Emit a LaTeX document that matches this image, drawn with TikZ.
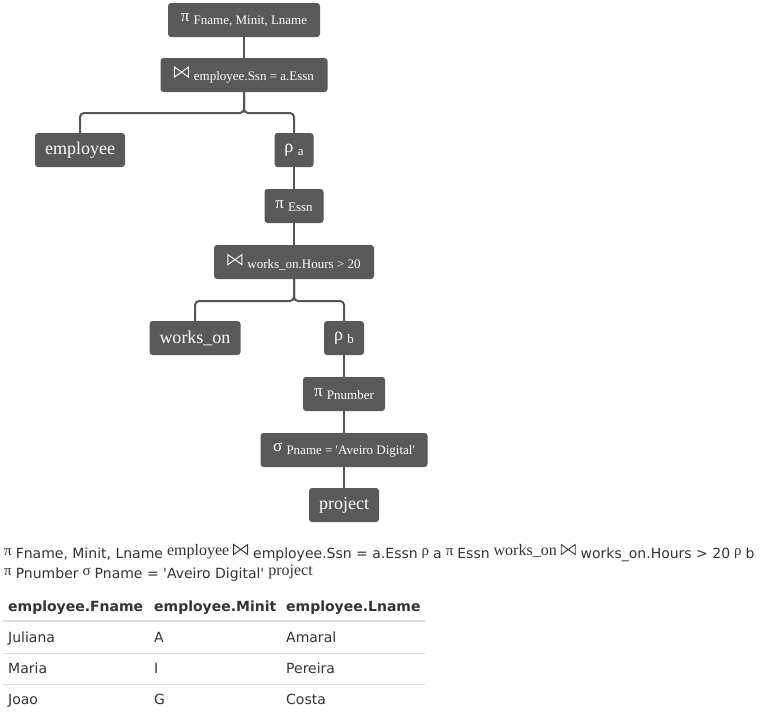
\documentclass[tikz,border=0pt]{standalone}
\usepackage{fontspec}
\setmainfont{Liberation Serif}
\newfontfamily\uisans{DejaVu Sans}
\definecolor{opfill}{RGB}{89,89,89}
\definecolor{edgecol}{RGB}{85,85,85}
\definecolor{txt}{RGB}{51,51,51}
\definecolor{rule}{RGB}{221,221,221}
\newcommand\opsub[1]{\raisebox{-3pt}{\fontsize{13}{13}\selectfont #1}}
\newcommand\bt{\tikz[baseline=0pt, x=1pt, y=1pt]\draw[sharp corners, line width=0.9pt, line join=miter, draw=.] (0.5,0.5) -- (0.5,10.5) -- (14.5,0.5) -- (14.5,10.5) -- cycle;\hspace{5pt}}
\newcommand\exsub[1]{\raisebox{-3.5pt}{\uisans\fontsize{14}{14}\selectfont #1}}
\newcommand\exsym[1]{{\fontsize{15}{15}\selectfont #1}}
\begin{document}
\begin{tikzpicture}[x=1pt,y=-1pt,
  op/.style={fill=opfill, rounded corners=3pt, text=white, minimum height=34pt,
    inner xsep=6pt, inner ysep=0pt, font=\fontsize{17}{17}\selectfont},
  leaf/.style={op, font=\fontsize{18}{18}\selectfont},
  edge/.style={draw=edgecol, line width=2pt, rounded corners=4pt},
  hd/.style={anchor=base west, inner sep=0pt, text=txt, font=\uisans\bfseries\fontsize{14}{14}\selectfont},
  cell/.style={anchor=base west, inner sep=0pt, text=txt, font=\uisans\fontsize{14}{14}\selectfont}]
\useasboundingbox (0,0) rectangle (775,716);

\coordinate (c1) at (244,113);
\coordinate (c2) at (294,301);

\node[op, minimum width=152pt] (p1) at (244,20) {π \opsub{Fname, Minit, Lname}};
\node[op, minimum width=167pt] (j1) at (244,75) {\bt\opsub{employee.Ssn = a.Essn}};
\node[leaf, minimum width=90pt] (emp) at (80,150) {employee};
\node[leaf, minimum width=39pt] (ra) at (294,150) {ρ \opsub{a}};
\node[op, minimum width=59pt] (pe) at (294,206) {π \opsub{Essn}};
\node[op, minimum width=160pt] (j2) at (294,262) {\bt\opsub{works\_on.Hours > 20}};
\node[leaf, minimum width=91pt] (wo) at (195,338) {works\_on};
\node[leaf, minimum width=40pt] (rb) at (344,338) {ρ \opsub{b}};
\node[op, minimum width=82pt] (pp) at (344,394) {π \opsub{Pnumber}};
\node[op, minimum width=167pt] (sg) at (344,450) {σ \opsub{Pname = \textquotesingle Aveiro Digital\textquotesingle}};
\node[leaf, minimum width=70pt] (pr) at (344,505) {project};

\draw[edge] (p1.south) -- (j1.north);
\draw[edge] (j1.south) -- (c1) -| (emp.north);
\draw[edge] (j1.south) -- (c1) -| (ra.north);
\draw[edge] (ra.south) -- (pe.north);
\draw[edge] (pe.south) -- (j2.north);
\draw[edge] (j2.south) -- (c2) -| (wo.north);
\draw[edge] (j2.south) -- (c2) -| (rb.north);
\draw[edge] (rb.south) -- (pp.north);
\draw[edge] (pp.south) -- (sg.north);
\draw[edge] (sg.south) -- (pr.north);

% expression text
\node[anchor=base west, inner sep=0pt, text=txt, font=\fontsize{16}{16}\selectfont] (ex1) at (4,555)
  {\exsym{π} \exsub{Fname, Minit, Lname} employee \bt\exsub{employee.Ssn = a.Essn} \exsym{ρ} \exsub{a} \exsym{π} \exsub{Essn} works\_on \bt\exsub{works\_on.Hours > 20} \exsym{ρ} \exsub{b}};
\node[anchor=base west, inner sep=0pt, text=txt, font=\fontsize{16}{16}\selectfont] (ex2) at (4,575)
  {\exsym{π} \exsub{Pnumber} \exsym{σ} \exsub{Pname = 'Aveiro Digital'} project};

% table
\node[hd] (h1) at (8,611) {employee.Fname};
\node[hd] (h2) at (154,611) {employee.Minit};
\node[hd] (h3) at (286,611) {employee.Lname};
\coordinate (t0) at (3,621); \coordinate (t1) at (425,621);
\draw[rule, line width=2pt] (t0) -- (t1);
\node[cell] (a1) at (8,642) {Juliana};
\node[cell] (a2) at (154,642) {A};
\node[cell] (a3) at (286,642) {Amaral};
\coordinate (r0) at (3,653.5); \coordinate (r1) at (425,653.5);
\draw[rule, line width=1pt] (r0) -- (r1);
\node[cell] (b1) at (8,673) {Maria};
\node[cell] (b2) at (154,673) {I};
\node[cell] (b3) at (286,673) {Pereira};
\coordinate (s0) at (3,684.5); \coordinate (s1) at (425,684.5);
\draw[rule, line width=1pt] (s0) -- (s1);
\node[cell] (c1t) at (8,704) {Joao};
\node[cell] (c2t) at (154,704) {G};
\node[cell] (c3t) at (286,704) {Costa};
\end{tikzpicture}
\end{document}
